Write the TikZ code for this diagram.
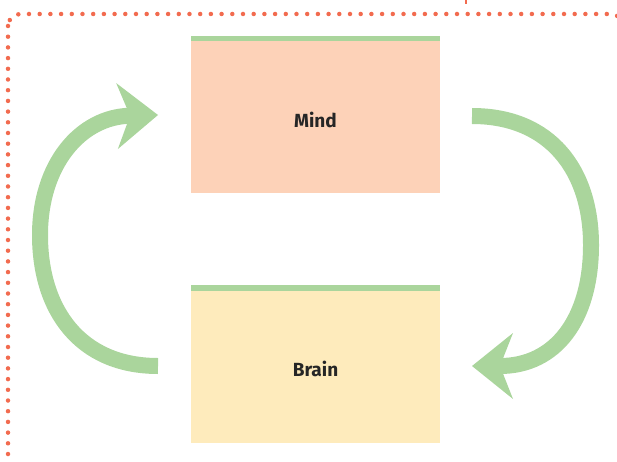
\documentclass[tikz,border=0pt]{standalone}
\usepackage{fontspec}
\setmainfont{Fira Sans}
\usetikzlibrary{arrows.meta}
\definecolor{dotorange}{HTML}{F26B4F}
\definecolor{leafgreen}{HTML}{AAD59C}
\definecolor{mindfill}{HTML}{FDD2B8}
\definecolor{brainfill}{HTML}{FEEBBC}
\begin{document}
\begin{tikzpicture}[x=1pt,y=-1pt,
  panel/.style={minimum width=249pt, minimum height=152pt, inner sep=0pt},
  boxlabel/.style={font=\fontsize{19}{22}\selectfont\bfseries, text=black!85, text depth=0pt, inner sep=0pt},
  cyclearrow/.style={draw=leafgreen, line width=16pt, -{Stealth[length=41pt, width=66pt, inset=13pt, line width=0pt]}}]
\useasboundingbox (0,0) rectangle (617,462);
\draw[dotorange, line width=4.5pt, line cap=round, dash pattern=on 0pt off 10.7pt, rounded corners=12pt] (8,14) rectangle (623,472);
\draw[dotorange, line width=2pt] (466,0) -- (466,4);
\node[panel, fill=mindfill] (mind) at (315.5,117) {};
\fill[leafgreen] (mind.north west) rectangle ([yshift=5pt]mind.north east);
\node[boxlabel] (mindtext) at ([yshift=-2.5pt]mind.center) {Mind};
\node[panel, fill=brainfill] (brain) at (315.5,367) {};
\fill[leafgreen] (brain.north west) rectangle ([yshift=6pt]brain.north east);
\node[boxlabel] (braintext) at ([yshift=-1.5pt]brain.center) {Brain};
\coordinate (brainout) at (158,366);
\coordinate (mindin) at (158,115);
\coordinate (mindout) at (472,116);
\coordinate (brainin) at (472,366);
\draw[cyclearrow] (brainout) .. controls (80,366) and (40,310) .. (40,235) .. controls (40,165) and (80,117) .. (mindin);
\draw[cyclearrow] (mindout) .. controls (550,116) and (591,170) .. (591,245) .. controls (591,320) and (555,366) .. (brainin);
\end{tikzpicture}
\end{document}
